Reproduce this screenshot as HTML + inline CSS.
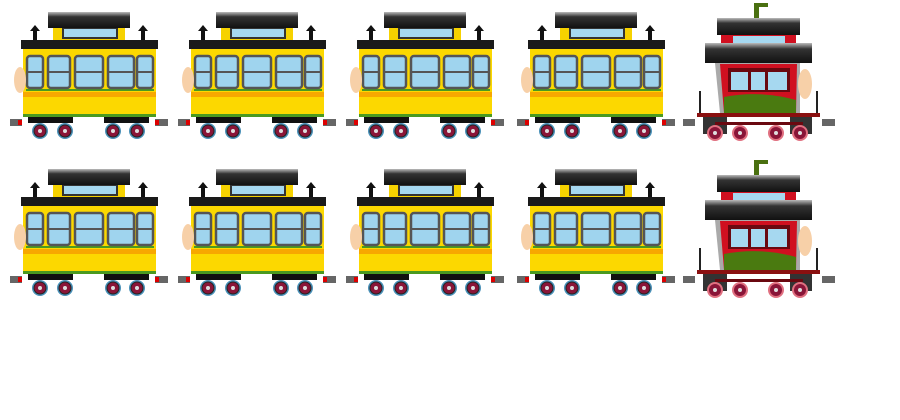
<!DOCTYPE html><html><head><style>body{margin:0;background:#fff}svg{display:block}</style></head><body>
<svg width="900" height="420" viewBox="0 0 900 420" xmlns="http://www.w3.org/2000/svg">
<defs>
<linearGradient id="rf" x1="0" y1="0" x2="0" y2="1"><stop offset="0" stop-color="#bbb"/><stop offset=".3" stop-color="#333"/><stop offset="1" stop-color="#111"/></linearGradient>
<g id="wh"><circle r="8" fill="#4a90b8"/><circle r="6.5" fill="#222"/><circle r="5.5" fill="#8a1538"/><circle r="2" fill="#ddd"/></g>
<g id="pw"><circle r="8" fill="#e07080"/><circle r="6" fill="#8a1538"/><circle r="2" fill="#ddd"/></g>
<g id="coach">
<rect x="48" y="12" width="82" height="16" fill="url(#rf)"/>
<rect x="53" y="28" width="72" height="13" fill="#f6d200"/>
<rect x="62" y="28" width="56" height="11" fill="#333"/><rect x="64" y="29" width="52" height="8" fill="#a6d8f0"/>
<rect x="33" y="30" width="4" height="10" fill="#111"/><polygon points="30,31 35,25 40,31" fill="#111"/>
<rect x="141" y="30" width="4" height="10" fill="#111"/><polygon points="138,31 143,25 148,31" fill="#111"/>
<rect x="21" y="40" width="137" height="9" fill="#1a1a1a"/>
<rect x="23" y="49" width="133" height="66" fill="#fcd800"/>
<rect x="23" y="92" width="133" height="5" fill="#f7a800"/>
<rect x="26" y="89" width="128" height="2" fill="#4a9a20"/>
<g fill="#9fd4ee" stroke="#555" stroke-width="2.5">
<rect x="27" y="56" width="16" height="32" rx="3"/><rect x="48" y="56" width="22" height="32" rx="3"/><rect x="75" y="56" width="28" height="32" rx="3"/><rect x="108" y="56" width="26" height="32" rx="3"/><rect x="137" y="56" width="16" height="32" rx="3"/></g>
<g stroke="#555" stroke-width="2"><line x1="27" y1="72" x2="43" y2="72"/><line x1="48" y1="72" x2="70" y2="72"/><line x1="75" y1="72" x2="103" y2="72"/><line x1="108" y1="72" x2="134" y2="72"/><line x1="137" y1="72" x2="153" y2="72"/></g>
<ellipse cx="20" cy="80" rx="6" ry="13" fill="#f7d0a8"/>
<rect x="23" y="114" width="133" height="3" fill="#4a9a20"/>
<rect x="28" y="117" width="45" height="6" fill="#111"/><rect x="104" y="117" width="45" height="6" fill="#111"/>
<rect x="10" y="119" width="12" height="7" fill="#666"/><rect x="155" y="119" width="13" height="7" fill="#666"/>
<rect x="18" y="120" width="4" height="5" fill="#d00"/><rect x="155" y="120" width="4" height="5" fill="#d00"/>
<use href="#wh" x="40" y="131"/><use href="#wh" x="65" y="131"/><use href="#wh" x="113" y="131"/><use href="#wh" x="137" y="131"/>
</g>
<g id="cab">
<rect x="754" y="3" width="5" height="16" fill="#4a7010"/><rect x="754" y="3" width="14" height="4" fill="#4a7010"/>
<rect x="717" y="18" width="83" height="17" fill="url(#rf)"/>
<rect x="721" y="35" width="75" height="10" fill="#d01020"/><rect x="733" y="36" width="52" height="8" fill="#a6d8f0"/>
<rect x="705" y="43" width="107" height="20" fill="url(#rf)"/>
<polygon points="715,63 800,63 800,113 720,113" fill="#aaa"/>
<polygon points="720,64 797,64 796,113 724,113" fill="#d01020"/>
<path d="M724 97 Q760 90 796 100 L796 113 L724 113Z" fill="#4a7a10"/>
<rect x="728" y="68" width="62" height="24" fill="#6a0810"/>
<g fill="#a6d8f0"><rect x="731" y="72" width="17" height="18"/><rect x="751" y="72" width="14" height="18"/><rect x="768" y="72" width="19" height="18"/></g>
<ellipse cx="805" cy="84" rx="7" ry="15" fill="#f7d0a8"/>
<rect x="699" y="91" width="2" height="24" fill="#222"/><rect x="816" y="91" width="2" height="24" fill="#222"/>
<rect x="697" y="113" width="123" height="4" fill="#8a1010"/>
<rect x="703" y="117" width="24" height="17" fill="#333"/><rect x="790" y="117" width="22" height="17" fill="#333"/>
<rect x="715" y="122" width="88" height="3" fill="#6a0810"/>
<rect x="683" y="119" width="12" height="7" fill="#666"/><rect x="822" y="119" width="13" height="7" fill="#666"/>
<use href="#pw" x="715" y="133"/><use href="#pw" x="740" y="133"/><use href="#pw" x="776" y="133"/><use href="#pw" x="800" y="133"/>
</g>
</defs>
<use href="#coach"/><use href="#coach" x="168"/><use href="#coach" x="336"/><use href="#coach" x="507"/><use href="#cab"/>
<use href="#coach" y="157"/><use href="#coach" x="168" y="157"/><use href="#coach" x="336" y="157"/><use href="#coach" x="507" y="157"/><use href="#cab" y="157"/>
</svg>
</body></html>
